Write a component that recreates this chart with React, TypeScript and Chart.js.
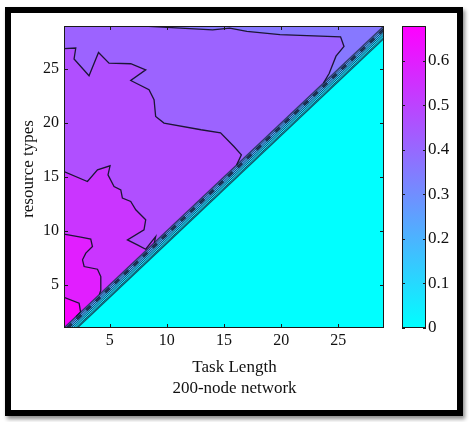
import React, { useEffect, useRef } from 'react';
import { Chart, registerables } from 'chart.js';

Chart.register(...registerables);

// ---------- data ----------
const axisMin = 1;
const axisMax = 29;
const xTicks = [5, 10, 15, 20, 25];
const yTicks = [5, 10, 15, 20, 25];
const cbTicks = [0, 0.1, 0.2, 0.3, 0.4, 0.5, 0.6];
const cbTickLabels = ['0', '0.1', '0.2', '0.3', '0.4', '0.5', '0.6'];
const cbMin = 0;
const cbMax = 0.678;

const xTitle = ['Task Length', '200-node network'];
const yTitle = 'resource types';

// value of each filled contour region in the upper triangle (outer -> corner)
const regionValues = [0.36, 0.414, 0.468, 0.536, 0.597, 0.664];
// value of the lower-right triangle
const lowerValue = 0;

// contour lines, [taskLength, resourceTypes]
const contourB = [
  [8.0, 29], [11.2, 28.8], [14.0, 28.65], [15.5, 28.8], [17.0, 28.5], [19.9, 28.2],
  [25.2, 28.0], [25.5, 27.1], [24.8, 26.2], [24.2, 24.6], [23.7, 23.7],
];
const contourA = [
  [1, 26.9], [2.03, 26.96], [1.88, 25.94], [3.19, 24.39], [4.02, 26.55], [4.94, 25.56],
  [6.84, 25.5], [8.15, 24.94], [6.84, 23.95], [8.44, 23.09], [8.88, 22.16], [9.02, 20.61],
  [9.75, 20.0], [12.99, 19.38], [14.7, 19.1], [15.87, 17.83], [16.52, 17.06], [16.1, 16.1],
];
const contourC = [
  [1, 15.5], [3.05, 14.58], [3.93, 15.67], [5.03, 16.04], [4.85, 15.2], [5.38, 14.12],
  [5.97, 13.8], [6.11, 13.04], [6.84, 12.73], [7.28, 11.96], [8.15, 11.03], [8.0, 10.1],
  [6.55, 9.17], [7.42, 8.71], [8.15, 8.3], [9.02, 9.48], [8.9, 8.9],
];
const contourD = [
  [1, 9.7], [2.47, 9.42], [3.34, 9.24], [3.49, 8.55], [2.91, 7.94], [2.62, 7.32],
  [2.76, 6.7], [3.93, 6.45], [4.22, 5.77], [4.22, 4.5], [4.1, 4.1],
];
const contourE = [[1, 3.85], [2.32, 3.3], [2.45, 2.5], [2.05, 2.05]];

// narrow transition strip just below the diagonal: offsets below y = x, and strip values
const bandOffsets = [0, 0.2, 0.4, 0.6, 0.8, 1.0, 1.15];
const bandValues = [0.3, 0.24, 0.18, 0.12, 0.07, 0.03];

// ---------- helpers ----------
const FONT = '"Liberation Serif", "Times New Roman", serif';
const TEXT = '#111111';

function cool(v: number) {
  const t = Math.max(0, Math.min(1, (v - cbMin) / (cbMax - cbMin)));
  return `rgb(${Math.round(255 * t)}, ${Math.round(255 * (1 - t))}, 255)`;
}
const toPts = (arr: number[][]) => arr.map(([x, y]) => ({ x, y }));

const fillDs = (poly: number[][], color: string, order: number) => ({
  type: 'line',
  data: toPts(poly),
  showLine: true,
  fill: 'shape',
  backgroundColor: color,
  borderColor: 'rgba(0,0,0,0)',
  borderWidth: 0,
  pointRadius: 0,
  pointHoverRadius: 0,
  pointHitRadius: 0,
  tension: 0,
  order,
});
const lineDs = (pts: number[][], color: string, width: number, order: number, dash: number[] = []) => ({
  type: 'line',
  data: toPts(pts),
  showLine: true,
  fill: false,
  borderColor: color,
  borderWidth: width,
  borderDash: dash,
  pointRadius: 0,
  pointHoverRadius: 0,
  pointHitRadius: 0,
  tension: 0,
  order,
});

const decorPlugin = {
  id: 'decor',
  afterDraw(chart: any) {
    const { ctx, chartArea: a, scales } = chart;
    const xs = scales.x, ys = scales.y, cb = scales.cb;
    ctx.save();
    ctx.strokeStyle = '#1a1a1a';
    ctx.lineWidth = 1;
    ctx.strokeRect(a.left + 0.5, a.top + 0.5, a.right - a.left - 1, a.bottom - a.top - 1);
    const tl = 4;
    ctx.beginPath();
    xTicks.forEach((v) => {
      const px = Math.round(xs.getPixelForValue(v)) + 0.5;
      ctx.moveTo(px, a.bottom); ctx.lineTo(px, a.bottom - tl);
      ctx.moveTo(px, a.top); ctx.lineTo(px, a.top + tl);
    });
    yTicks.forEach((v) => {
      const py = Math.round(ys.getPixelForValue(v)) + 0.5;
      ctx.moveTo(a.left, py); ctx.lineTo(a.left + tl, py);
      ctx.moveTo(a.right, py); ctx.lineTo(a.right - tl, py);
    });
    ctx.stroke();

    // colorbar
    const cbL = cb.left + 18, cbR = cb.left + 42;
    const cbT = cb.getPixelForValue(cbMax), cbB = cb.getPixelForValue(cbMin);
    const g = ctx.createLinearGradient(0, cbB, 0, cbT);
    g.addColorStop(0, cool(cbMin));
    g.addColorStop(1, cool(cbMax));
    ctx.fillStyle = g;
    ctx.fillRect(cbL, cbT, cbR - cbL, cbB - cbT);
    ctx.strokeRect(cbL + 0.5, cbT + 0.5, cbR - cbL - 1, cbB - cbT - 1);
    ctx.beginPath();
    cbTicks.forEach((v) => {
      const py = Math.round(cb.getPixelForValue(v)) + 0.5;
      ctx.moveTo(cbL, py); ctx.lineTo(cbL + 3, py);
      ctx.moveTo(cbR, py); ctx.lineTo(cbR - 3, py);
    });
    ctx.stroke();

    // y title
    ctx.fillStyle = TEXT;
    ctx.font = `17px ${FONT}`;
    ctx.textAlign = 'center';
    ctx.textBaseline = 'middle';
    ctx.translate(a.left - 35, (a.top + a.bottom) / 2 - 8);
    ctx.rotate(-Math.PI / 2);
    ctx.fillText(yTitle, 0, 0);
    ctx.restore();
  },
};

const zeroPad = (s: any) => {
  s.paddingTop = 0; s.paddingBottom = 0; s.paddingLeft = 0; s.paddingRight = 0;
};

export default function App() {
  const ref = useRef<HTMLCanvasElement>(null);

  useEffect(() => {
    const canvas = ref.current;
    if (!canvas) return;
    const lo = axisMin, hi = axisMax;
    const datasets: any[] = [];
    let order = 100;

    const regionPolys = [
      [[lo, lo], [lo, hi], [hi, hi]],
      [[lo, lo], [lo, hi], ...contourB],
      [[lo, lo], ...contourA],
      [[lo, lo], ...contourC],
      [[lo, lo], ...contourD],
      [[lo, lo], ...contourE],
    ];
    regionPolys.forEach((p, i) => datasets.push(fillDs(p, cool(regionValues[i]), order--)));
    datasets.push(fillDs([[lo, lo], [hi, lo], [hi, hi]], cool(lowerValue), order--));
    for (let i = 0; i < bandValues.length; i++) {
      const a = bandOffsets[i], b = bandOffsets[i + 1];
      datasets.push(fillDs([[lo + a, lo], [hi, hi - a], [hi, hi - b], [lo + b, lo]], cool(bandValues[i]), order--));
    }
    const edge = bandOffsets[bandOffsets.length - 1];
    datasets.push(fillDs([[lo + edge, lo], [hi, lo], [hi, hi - edge]], cool(lowerValue), order--));
    [contourA, contourB, contourC, contourD, contourE].forEach((c) =>
      datasets.push(lineDs(c, '#1c1535', 1.3, order--)));
    bandOffsets.forEach((o, i) =>
      datasets.push(lineDs([[lo + o, lo], [hi, hi - o]], 'rgba(20,30,55,0.75)', i === 0 || i === bandOffsets.length - 1 ? 1.4 : 1, order--)));
    const mid = (bandOffsets[1] + bandOffsets[2]) / 2;
    datasets.push(lineDs([[lo + mid, lo], [hi, hi - mid]], 'rgba(20,30,55,0.8)', 3, order--, [6, 7]));

    const tickFont = { family: FONT, size: 16 };
    const chart = new Chart(canvas, {
      type: 'line',
      data: { datasets },
      plugins: [decorPlugin],
      options: {
        responsive: false,
        animation: false,
        events: [],
        layout: { padding: { left: 0, right: 0, top: 26, bottom: 0 } },
        plugins: {
          legend: { display: false },
          tooltip: { enabled: false },
          title: {
            display: true,
            position: 'bottom',
            text: xTitle,
            color: TEXT,
            font: { family: FONT, size: 17, weight: 'normal', lineHeight: 21 / 17 },
            padding: { top: 0, bottom: 22.5 },
          },
        },
        scales: {
          x: {
            type: 'linear',
            min: lo,
            max: hi,
            position: 'bottom',
            grid: { display: false, drawTicks: false },
            border: { display: false },
            ticks: { padding: 3, color: TEXT, font: tickFont, callback: (v: any) => String(v) },
            afterBuildTicks: (s: any) => { s.ticks = xTicks.map((v) => ({ value: v })); },
            afterFit: (s: any) => { s.height = 29.5; zeroPad(s); },
          },
          y: {
            type: 'linear',
            min: lo,
            max: hi,
            position: 'left',
            grid: { display: false, drawTicks: false },
            border: { display: false },
            ticks: { padding: 5, color: TEXT, font: tickFont, callback: (v: any) => String(v) },
            afterBuildTicks: (s: any) => { s.ticks = yTicks.map((v) => ({ value: v })); },
            afterFit: (s: any) => { s.width = 64; zeroPad(s); },
          },
          cb: {
            type: 'linear',
            min: cbMin,
            max: cbMax,
            position: 'right',
            grid: { display: false, drawTicks: false },
            border: { display: false },
            ticks: {
              padding: 44,
              color: TEXT,
              font: { family: FONT, size: 17 },
              callback: (_v: any, i: number) => cbTickLabels[i],
            },
            afterBuildTicks: (s: any) => { s.ticks = cbTicks.map((v) => ({ value: v })); },
            afterFit: (s: any) => { s.width = 85; zeroPad(s); },
          },
        },
      } as any,
    } as any);
    return () => chart.destroy();
  }, []);

  return (
    <div style={{ position: 'fixed', left: 0, top: 0, width: 469, height: 422, background: '#fff' }}>
      <div
        style={{
          position: 'absolute', left: 5, top: 7, width: 458, height: 409,
          border: '6px solid #000', boxSizing: 'border-box',
          boxShadow: '2px 3px 4px rgba(0,0,0,0.45)',
        }}
      />
      <canvas
        ref={ref}
        width={469}
        height={422}
        style={{ position: 'absolute', left: 0, top: 0, width: 469, height: 422 }}
      />
    </div>
  );
}
